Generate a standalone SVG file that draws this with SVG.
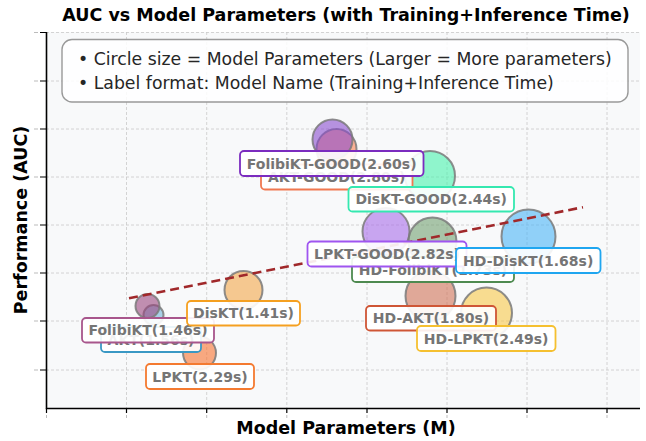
<svg xmlns="http://www.w3.org/2000/svg" width="646" height="441" viewBox="0 0 646 441">
<style>
.grid{stroke:#c9c9c9;stroke-width:0.8;stroke-dasharray:3,2;fill:none}
.tick{stroke:#000;stroke-width:1.2}
.tickg{stroke:#bbb;stroke-width:1}
.bub{stroke:#7a7a7a;stroke-width:2;stroke-opacity:0.85;fill-opacity:0.6}
.lbl rect{fill:#fff;fill-opacity:0.9;stroke-width:1.8}
.lbl text{font-family:"DejaVu Sans",sans-serif;font-weight:bold;font-size:14px;fill:#757575;text-anchor:middle}
.ttl{font-family:"DejaVu Sans",sans-serif;font-weight:bold;font-size:17.5px;fill:#000;text-anchor:middle}
.leg{font-family:"DejaVu Sans",sans-serif;font-size:17.3px;fill:#262626}
</style>
<rect width="646" height="441" fill="#fff"/>
<rect x="46" y="32" width="594" height="376" fill="#f8f9fa"/>
<g id="grid">
<path class="grid" d="M126.5 32V408M206.7 32V408M286.8 32V408M367 32V408M447 32V408M527 32V408M607 32V408"/>
<path class="grid" d="M46 32.5H640M46 81H640M46 129H640M46 177H640M46 225H640M46 273H640M46 321H640M46 370H640"/>
</g>
<g id="axes">
<path d="M46.5 32V408.5H640" fill="none" stroke="#000" stroke-width="1.6"/>
<path class="tick" d="M46.5 408v5M126.5 408v5M206.7 408v5M286.8 408v5M367 408v5M447 408v5M527 408v5M607 408v5"/>
<path class="tickg" d="M46.5 415v3M126.5 415v3M206.7 415v3M286.8 415v3M367 415v3M447 415v3M527 415v3M607 415v3"/>
<path class="tick" d="M40 32.5h6M40 81h6M40 129h6M40 177h6M40 225h6M40 273h6M40 321h6M40 370h6"/>
<path class="tickg" d="M34 32.5h4M34 81h4M34 129h4M34 177h4M34 225h4M34 273h4M34 321h4M34 370h4"/>
</g>
<text class="ttl" x="346" y="21">AUC vs Model Parameters (with Training+Inference Time)</text>
<text class="ttl" x="346" y="434">Model Parameters (M)</text>
<text class="ttl" transform="translate(27,220) rotate(-90)">Performance (AUC)</text>
<g id="legend">
<rect x="62" y="39.5" width="566" height="62.5" rx="10" fill="#fff" fill-opacity="0.85" stroke="#999" stroke-width="1.4"/>
<text class="leg" x="78" y="65">• Circle size = Model Parameters (Larger = More parameters)</text>
<text class="leg" x="78" y="89">• Label format: Model Name (Training+Inference Time)</text>
</g>
<g id="bubbles">
<circle id="c-akt-good" class="bub" cx="336.5" cy="149" r="20" fill="#ff7f50"/>
<circle id="c-folibikt-good" class="bub" cx="332.5" cy="139.5" r="20" fill="#8a4dcf"/>
<circle id="c-diskt-good" class="bub" cx="430" cy="176" r="25" fill="#49f2ad"/>
<circle id="c-lpkt-good" class="bub" cx="386" cy="231.5" r="23.5" fill="#a86ce9"/>
<circle id="c-hd-folibikt" class="bub" cx="432.5" cy="241.5" r="24" fill="#73a071"/>
<circle id="c-hd-diskt" class="bub" cx="528.5" cy="236.5" r="27" fill="#4bb4f7"/>
<circle id="c-hd-akt" class="bub" cx="430.5" cy="296" r="25" fill="#d07157"/>
<circle id="c-hd-lpkt" class="bub" cx="486.5" cy="313" r="25.5" fill="#f8c849"/>
<circle id="c-diskt" class="bub" cx="243.5" cy="290" r="19" fill="#f3a749"/>
<circle id="c-akt" class="bub" cx="153.5" cy="315" r="10" fill="#73b4dc"/>
<circle id="c-folibikt" class="bub" cx="147.5" cy="306" r="12" fill="#9b467f"/>
<circle id="c-lpkt" class="bub" cx="199.5" cy="353" r="16.5" fill="#f8712f"/>
</g>
<g id="connectors">
<line x1="129" y1="298.3" x2="583" y2="207.2" stroke="#a0282a" stroke-width="2.6" stroke-dasharray="9,5"/>
</g>
<g id="labels">
<g id="l-akt" class="lbl"><rect x="101" y="327" width="100" height="25" rx="4" stroke="#3a98c4"/><text x="151" y="344.5">AKT(1.56s)</text></g>
<g id="l-folibikt" class="lbl"><rect x="82" y="318" width="132" height="24.5" rx="4" stroke="#a8568c"/><text x="148" y="335">FolibiKT(1.46s)</text></g>
<g id="l-lpkt" class="lbl"><rect x="146" y="364" width="108" height="25" rx="4" stroke="#f47a30"/><text x="200" y="381.5">LPKT(2.29s)</text></g>
<g id="l-diskt" class="lbl"><rect x="187" y="301" width="113" height="24.5" rx="4" stroke="#f5a020"/><text x="243.5" y="318">DisKT(1.41s)</text></g>
<g id="l-akt-good" class="lbl"><rect x="261" y="164.5" width="151.5" height="25" rx="4" stroke="#f07850"/><text x="336.7" y="182">AKT-GOOD(2.80s)</text></g>
<g id="l-folibikt-good" class="lbl"><rect x="240" y="151" width="183.5" height="25" rx="4" stroke="#7b2cbf"/><text x="331.7" y="168.5">FolibiKT-GOOD(2.60s)</text></g>
<g id="l-diskt-good" class="lbl"><rect x="348.5" y="187" width="165.5" height="24.5" rx="4" stroke="#35e8b0"/><text x="431.2" y="204">DisKT-GOOD(2.44s)</text></g>
<g id="l-hd-folibikt" class="lbl"><rect x="352" y="257" width="162" height="25" rx="4" stroke="#4e8a50"/><text x="433" y="274.5">HD-FolibiKT(1.73s)</text></g>
<g id="l-lpkt-good" class="lbl"><rect x="307.5" y="241.5" width="159" height="25" rx="4" stroke="#9f55f0"/><text x="387" y="259">LPKT-GOOD(2.82s)</text></g>
<g id="l-hd-diskt" class="lbl"><rect x="456" y="248" width="144.5" height="25" rx="4" stroke="#1fa6f0"/><text x="528.2" y="265.5">HD-DisKT(1.68s)</text></g>
<g id="l-hd-akt" class="lbl"><rect x="366" y="306" width="130" height="24.5" rx="4" stroke="#cf5636"/><text x="431" y="323">HD-AKT(1.80s)</text></g>
<g id="l-hd-lpkt" class="lbl"><rect x="417" y="326" width="138.5" height="25" rx="4" stroke="#f5c030"/><text x="486.2" y="343.5">HD-LPKT(2.49s)</text></g>
</g>
</svg>
